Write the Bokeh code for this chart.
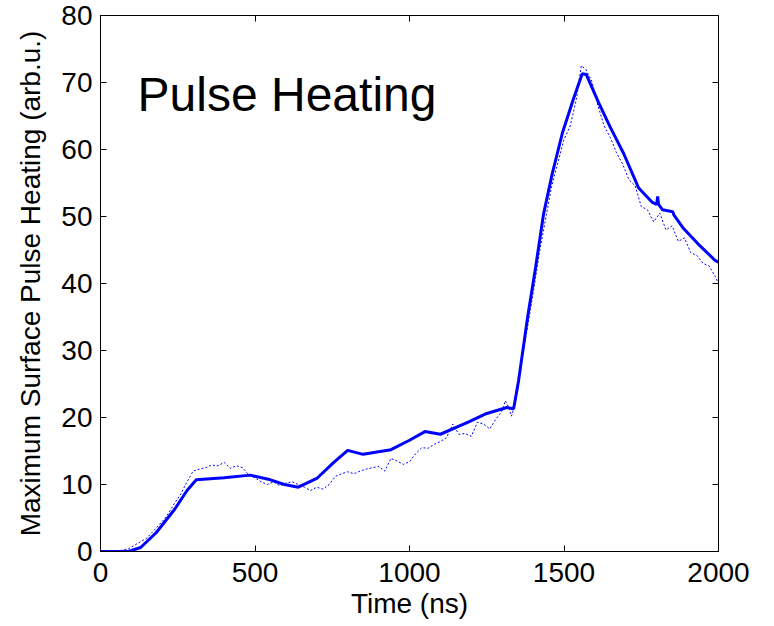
from bokeh.plotting import figure
from bokeh.models import Range1d, LinearAxis, FixedTicker, Label
from bokeh.embed import file_html
from bokeh.resources import INLINE

# Solid curve (smoothed pulse heating)
solid_t = [0, 90, 130, 180, 240, 280, 310, 400, 485, 550, 595, 640, 700, 755, 800,
           850, 940, 1000, 1050, 1100, 1190, 1250, 1315, 1337, 1353, 1382, 1408, 1434,
           1462, 1495, 1531, 1559, 1572, 1612, 1650, 1693, 1741, 1786, 1800, 1803, 1806,
           1819, 1852, 1856, 1887, 1932, 1990, 2000]
solid_y = [0, 0, 0.6, 2.8, 6.3, 9.1, 10.7, 11.0, 11.4, 10.7, 10.0, 9.6, 10.9, 13.3, 15.1,
           14.5, 15.2, 16.6, 17.9, 17.5, 19.3, 20.6, 21.5, 21.3, 25.5, 34.9, 42.4, 50.4,
           56.4, 62.5, 67.6, 71.3, 71.2, 67.0, 63.3, 59.4, 54.3, 52.1, 51.8, 53.0, 51.8,
           51.0, 50.7, 50.2, 48.2, 46.0, 43.4, 43.2]

# Dashed curve (noisy measurement)
dash_t = [0, 60, 90, 120, 150, 180, 210, 240, 260, 280, 300, 320, 340, 360, 380, 400,
          420, 440, 460, 480, 500, 520, 540, 560, 580, 600, 620, 640, 660, 680, 700, 720,
          740, 760, 780, 800, 820, 840, 860, 880, 900, 920, 940, 960, 980, 1000, 1020,
          1040, 1060, 1080, 1100, 1120, 1140, 1160, 1180, 1200, 1220, 1240, 1260, 1280,
          1300, 1310, 1320, 1330, 1340, 1350, 1360, 1380, 1400, 1420, 1440, 1460, 1480,
          1500, 1520, 1540, 1556, 1570, 1590, 1610, 1630, 1650, 1670, 1690, 1710, 1730,
          1750, 1770, 1790, 1810, 1830, 1850, 1870, 1890, 1910, 1930, 1950, 1970, 1990, 2000]
dash_y = [0, 0.1, 0.4, 1.2, 2.0, 3.5, 5.0, 7.2, 8.6, 10.4, 12.0, 12.3, 12.5, 12.9, 12.8,
          13.3, 12.4, 12.8, 12.5, 11.4, 11.0, 10.4, 10.0, 10.4, 9.8, 10.2, 10.4, 10.0, 9.6,
          9.1, 9.6, 9.3, 10.0, 11.2, 11.6, 11.9, 11.6, 12.0, 12.3, 12.5, 12.7, 12.0, 13.9,
          13.5, 13.0, 13.4, 14.6, 15.5, 15.4, 16.0, 16.4, 17.0, 19.0, 17.5, 17.6, 17.2,
          19.3, 19.0, 18.3, 19.8, 21.0, 22.5, 21.6, 20.2, 21.8, 24.0, 27.5, 33.0, 38.5,
          44.5, 49.5, 54.5, 58.0, 61.5, 63.5, 67.5, 72.5, 72.0, 70.2, 66.5, 63.5, 61.8,
          59.5, 57.8, 55.5, 54.6, 51.5, 51.0, 49.2, 50.5, 48.0, 48.6, 46.3, 46.8, 44.6,
          44.2, 43.0, 42.6, 41.0, 40.0]

x_ticks = [0, 500, 1000, 1500, 2000]
y_ticks = [0, 10, 20, 30, 40, 50, 60, 70, 80]

FONT = "Liberation Sans"
FS = "28px"

p = figure(width=774, height=626, output_backend="svg", toolbar_location=None,
           x_range=Range1d(0, 2000), y_range=Range1d(0, 80),
           min_border_left=100, min_border_right=56, min_border_top=15,
           min_border_bottom=75)
p.background_fill_color = "white"
p.border_fill_color = "white"
p.grid.visible = False
p.outline_line_color = "black"
p.outline_line_width = 1

p.line(dash_t, dash_y, line_color="#0000ff", line_width=1, line_dash="2 2")
p.line(solid_t, solid_y, line_color="#0000ff", line_width=3)

for ax in [p.xaxis[0], p.yaxis[0]]:
    ax.major_tick_in = 6
    ax.major_tick_out = 0
    ax.minor_tick_line_color = None
    ax.major_label_text_font = FONT
    ax.major_label_text_font_size = FS
    ax.major_label_text_color = "black"
    ax.axis_label_text_font = FONT
    ax.axis_label_text_font_size = FS
    ax.axis_label_text_font_style = "normal"
    ax.axis_label_text_color = "black"
    ax.axis_line_color = "black"
    ax.major_tick_line_color = "black"

p.xaxis[0].ticker = FixedTicker(ticks=x_ticks)
p.yaxis[0].ticker = FixedTicker(ticks=y_ticks)
p.xaxis[0].axis_label = "Time (ns)"
p.yaxis[0].axis_label = "Maximum Surface Pulse Heating (arb.u.)"
p.xaxis[0].major_label_standoff = 11
p.xaxis[0].axis_label_standoff = 3
p.yaxis[0].major_label_standoff = 8
p.yaxis[0].axis_label_standoff = 12

top = LinearAxis(ticker=FixedTicker(ticks=x_ticks), major_tick_in=6, major_tick_out=0,
                 minor_tick_line_color=None, major_label_text_font_size="1px",
                 major_label_text_color=None, major_label_standoff=0)
right = LinearAxis(ticker=FixedTicker(ticks=y_ticks), major_tick_in=6, major_tick_out=0,
                   minor_tick_line_color=None, major_label_text_font_size="1px",
                   major_label_text_color=None, major_label_standoff=0)
p.add_layout(top, "above")
p.add_layout(right, "right")

lbl = Label(x=120, y=68.2, text="Pulse Heating", text_font=FONT,
            text_font_size="48px", text_color="black", text_baseline="alphabetic")
p.add_layout(lbl)

open("out.html", "w").write(file_html(p, INLINE))
